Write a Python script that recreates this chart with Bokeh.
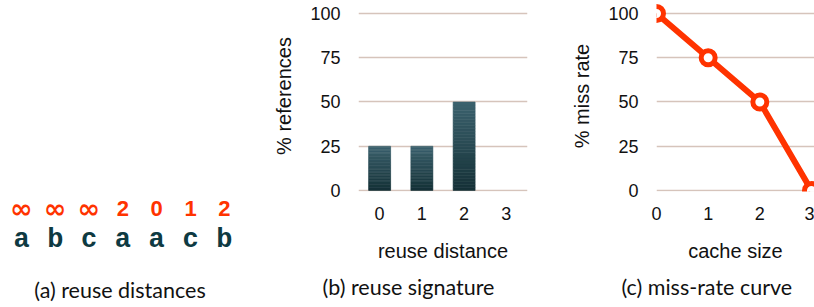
from bokeh.plotting import figure
from bokeh.models import Range1d, Label, FixedTicker, Title, ColumnDataSource
from bokeh.layouts import row
from bokeh.embed import file_html
from bokeh.resources import INLINE
from bokeh.core.properties import value

# ---- data ----
access_letters = ["a", "b", "c", "a", "a", "c", "b"]
reuse_labels = ["∞", "∞", "∞", "2", "0", "1", "2"]
distance_cats = [0, 1, 2, 3]
pct_references = [25, 25, 50, 0]
cache_sizes = [0, 1, 2, 3]
pct_miss_rate = [100, 75, 50, 0]
y_ticks = [0, 25, 50, 75, 100]
captions = ["(a) reuse distances", "(b) reuse signature", "(c) miss-rate curve"]
ylabels = ["% references", "% miss rate"]
xlabels = ["reuse distance", "cache size"]

# ---- style ----
RED = "#FF3300"
TEAL = "#0E3A42"
GRID = "#D6C4BB"
TXT = "#111111"
H = 307
BOTTOM = 116
YR = (-0.565, 107.34)
CAP_FONT = "Lato"
CAP_SIZE = "21.5px"
AX_FONT = "Liberation Sans"

# ---- (a) reuse distances ----
WA = 258
pa = figure(width=WA, height=H, x_range=Range1d(-0.621, (WA - 21) / 33.8), y_range=Range1d(0, H),
            output_backend="svg", toolbar_location=None,
            x_axis_location=None, y_axis_location=None, min_border=0,
            outline_line_color=None, frame_align=False)
pa.xgrid.visible = False
pa.ygrid.visible = False
idx = list(range(len(access_letters)))
src_a = ColumnDataSource(dict(
    x=idx, y_let=[68] * len(idx), y_num=[99] * len(idx),
    letters=access_letters, nums=reuse_labels,
    font=["DejaVu Sans" if s == "∞" else "Liberation Sans" for s in reuse_labels],
    size=["27px" if s == "∞" else "22px" for s in reuse_labels]))
pa.text(x="x", y="y_let", text="letters", source=src_a, text_font=value("Liberation Mono"),
        text_font_style="bold", text_font_size="27px", text_color=TEAL,
        text_align="center", text_baseline="alphabetic")
pa.text(x="x", y="y_num", text="nums", source=src_a, text_font="font",
        text_font_style="bold", text_font_size="size", text_color=RED,
        text_align="center", text_baseline="alphabetic")
pa.add_layout(Label(x=119.5, y=18, x_units="screen", y_units="screen", text=captions[0],
                    text_align="center", text_baseline="alphabetic", text_font=CAP_FONT,
                    text_font_size=CAP_SIZE, text_color=TXT))


def style_axes(p, ylabel, xlabel):
    p.outline_line_color = None
    p.xgrid.visible = False
    p.ygrid.grid_line_color = GRID
    p.ygrid.grid_line_width = 1.5
    p.yaxis.ticker = FixedTicker(ticks=y_ticks)
    for ax in (p.xaxis, p.yaxis):
        ax.axis_line_color = None
        ax.major_tick_line_color = None
        ax.minor_tick_line_color = None
        ax.major_tick_out = 0
        ax.major_tick_in = 0
        ax.minor_tick_out = 0
        ax.major_label_text_font = AX_FONT
        ax.major_label_text_font_size = "18px"
        ax.major_label_text_color = TXT
        ax.axis_label_text_font = AX_FONT
        ax.axis_label_text_font_size = "20px"
        ax.axis_label_text_font_style = "normal"
        ax.axis_label_text_color = TXT
    p.yaxis.major_label_standoff = 18
    p.yaxis.axis_label_standoff = 12
    p.yaxis.axis_label = ylabel
    p.xaxis.major_label_standoff = 15
    p.xaxis.axis_label_standoff = 17
    p.xaxis.axis_label = xlabel


def caption(p, text, off):
    p.add_layout(Title(text=text, align="left", offset=off, text_font=CAP_FONT,
                       text_font_size=CAP_SIZE, text_font_style="normal",
                       text_color=TXT, standoff=14), "below")


# ---- (b) reuse signature ----
pb = figure(width=302, height=H, x_range=Range1d(-0.5, 3.5), y_range=Range1d(*YR),
            output_backend="svg", toolbar_location=None,
            min_border_left=100, min_border_right=33, min_border_top=0,
            min_border_bottom=BOTTOM)
style_axes(pb, ylabels[0], xlabels[0])
pb.xaxis.ticker = FixedTicker(ticks=distance_cats)

# vertical gradient bars, built in slices from each bar's value
n = 30
top_rgb = (0x3C, 0x62, 0x6E)
bot_rgb = (0x15, 0x31, 0x37)
xs, bots, tops, cols = [], [], [], []
for c, v in zip(distance_cats, pct_references):
    if v <= 0:
        continue
    for k in range(n):
        t = (k + 0.5) / n
        rgb = tuple(int(round(b + (a - b) * t)) for a, b in zip(top_rgb, bot_rgb))
        xs.append(c)
        bots.append(v * k / n)
        tops.append(v * (k + 1) / n)
        cols.append("#%02x%02x%02x" % rgb)
pb.vbar(x=xs, bottom=bots, top=tops, width=0.52, fill_color=cols, line_color=cols,
        line_width=0.6)
caption(pb, captions[1], -36)

# ---- (c) miss-rate curve ----
pc = figure(width=254, height=H, x_range=Range1d(0, 3.058), y_range=Range1d(*YR),
            output_backend="svg", toolbar_location=None,
            min_border_left=96, min_border_right=0, min_border_top=0,
            min_border_bottom=BOTTOM)
style_axes(pc, ylabels[1], xlabels[1])
pc.xaxis.ticker = FixedTicker(ticks=cache_sizes)
pc.line(cache_sizes, pct_miss_rate, line_color=RED, line_width=6, line_join="round")
pc.scatter(cache_sizes, pct_miss_rate, size=14, fill_color="white", line_color=RED,
           line_width=5)
caption(pc, captions[2], -35)

layout = row(pa, pb, pc)
open("out.html", "w").write(file_html(layout, INLINE))
